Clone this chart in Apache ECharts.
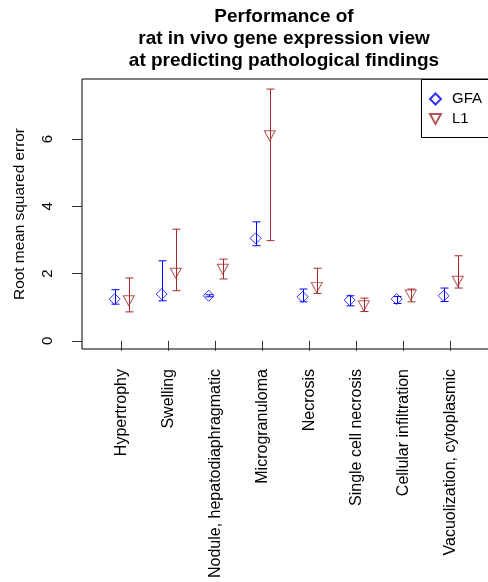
<!DOCTYPE html>
<html>
<head>
<meta charset="utf-8">
<script src="https://cdn.jsdelivr.net/npm/echarts@6/dist/echarts.min.js"></script>
<style>
  html, body { margin: 0; padding: 0; background: #fff; }
  #chart { width: 488px; height: 582px; }
</style>
</head>
<body>
<div id="chart"></div>
<script>
const categories = [
  'Hypertrophy', 'Swelling', 'Nodule, hepatodiaphragmatic', 'Microgranuloma',
  'Necrosis', 'Single cell necrosis', 'Cellular infiltration', 'Vacuolization, cytoplasmic'
]
const gfaMean = [1.24, 1.39, 1.34, 3.05, 1.31, 1.21, 1.24, 1.34]
const gfaLow = [1.09, 1.19, 1.31, 2.83, 1.16, 1.04, 1.11, 1.17]
const gfaHigh = [1.52, 2.38, 1.37, 3.54, 1.54, 1.34, 1.32, 1.57]
const l1Mean = [1.19, 2.01, 2.13, 6.10, 1.59, 1.04, 1.36, 1.77]
const l1Low = [0.86, 1.49, 1.84, 2.98, 1.41, 0.87, 1.16, 1.57]
const l1High = [1.87, 3.32, 2.43, 7.49, 2.16, 1.27, 1.54, 2.53]
const yTicks = [0, 2, 4, 6]

const FONT = '"Liberation Sans", Arial, sans-serif'
const BLUE = '#0000ff'
const RED = '#a52a2a'
const shift = 0.15
const downTriangle = 'path://M0,0 L10,0 L5,9 Z'

const chart = echarts.init(document.getElementById('chart'))

function points(means, dx) {
  return means.map((v, i) => [i + 1 + dx, v])
}
function bars(lows, highs, dx) {
  return lows.map((v, i) => [i + 1 + dx, v, highs[i]])
}
function errorBar(color) {
  return function (params, api) {
    const lo = api.coord([api.value(0), api.value(1)])
    const hi = api.coord([api.value(0), api.value(2)])
    const x = Math.round(lo[0]) + 0.5
    const hw = 4
    const style = { stroke: color, lineWidth: 1 }
    return {
      type: 'group',
      children: [
        { type: 'line', shape: { x1: x, y1: hi[1], x2: x, y2: lo[1] }, style },
        { type: 'line', shape: { x1: x - hw, y1: hi[1], x2: x + hw, y2: hi[1] }, style },
        { type: 'line', shape: { x1: x - hw, y1: lo[1], x2: x + hw, y2: lo[1] }, style }
      ]
    }
  }
}

const option = {
  animation: false,
  title: {
    text: 'Performance of\nrat in vivo gene expression view\nat predicting pathological findings',
    left: 279,
    top: 1,
    textAlign: 'center',
    textStyle: { fontFamily: FONT, fontSize: 19, fontWeight: 'bold', lineHeight: 22, color: '#000' }
  },
  // legend frame runs off the right edge, like the original
  graphic: [
    {
      type: 'rect',
      silent: true,
      z: 10,
      shape: { x: 421.5, y: 79.5, width: 90, height: 58 },
      style: { fill: 'none', stroke: '#000', lineWidth: 1 }
    }
  ],
  legend: {
    orient: 'vertical',
    left: 421,
    top: 79,
    data: [
      { name: 'GFA', icon: 'diamond' },
      { name: 'L1', icon: downTriangle }
    ],
    itemWidth: 11,
    itemHeight: 11,
    itemGap: 4,
    padding: [12, 10, 11, 8],
    textStyle: { fontFamily: FONT, fontSize: 15, lineHeight: 16, color: '#000', padding: [0, 0, 0, 6] }
  },
  grid: {
    left: 82,
    width: 409,
    top: 79,
    bottom: 233,
    outerBoundsMode: 'none',
    show: true,
    borderColor: '#000',
    borderWidth: 1
  },
  xAxis: {
    type: 'value',
    min: 0.155,
    max: 8.857,
    splitLine: { show: false },
    axisLine: { show: false },
    axisTick: {
      show: true,
      length: 10,
      customValues: [1, 2, 3, 4, 5, 6, 7, 8],
      lineStyle: { color: '#333' }
    },
    axisLabel: {
      rotate: 90,
      margin: 20,
      customValues: [1, 2, 3, 4, 5, 6, 7, 8],
      formatter: v => categories[Math.round(v) - 1],
      fontFamily: FONT,
      fontSize: 16,
      color: '#000'
    }
  },
  yAxis: {
    type: 'value',
    min: -0.244,
    max: 7.79,
    name: 'Root mean squared error',
    nameLocation: 'middle',
    nameGap: 55,
    nameTextStyle: { fontFamily: FONT, fontSize: 15.4, color: '#000' },
    splitLine: { show: false },
    axisLine: { show: false },
    axisTick: { show: true, length: 10, customValues: yTicks, lineStyle: { color: '#333' } },
    axisLabel: {
      rotate: 90,
      margin: 27,
      customValues: yTicks,
      fontFamily: FONT,
      fontSize: 15,
      color: '#000'
    }
  },
  series: [
    {
      name: 'GFA bars',
      type: 'custom',
      renderItem: errorBar(BLUE),
      data: bars(gfaLow, gfaHigh, -shift),
      z: 2
    },
    {
      name: 'L1 bars',
      type: 'custom',
      renderItem: errorBar(RED),
      data: bars(l1Low, l1High, shift),
      z: 2
    },
    {
      name: 'GFA',
      type: 'scatter',
      symbol: 'diamond',
      symbolSize: [11, 11],
      itemStyle: { color: 'transparent', borderColor: BLUE, borderWidth: 1 },
      data: points(gfaMean, -shift),
      z: 3
    },
    {
      name: 'L1',
      type: 'scatter',
      symbol: 'triangle',
      symbolRotate: 180,
      symbolSize: [11, 10],
      itemStyle: { color: 'transparent', borderColor: RED, borderWidth: 1 },
      data: points(l1Mean, shift),
      z: 3
    }
  ]
}

chart.setOption(option)
</script>
</body>
</html>
